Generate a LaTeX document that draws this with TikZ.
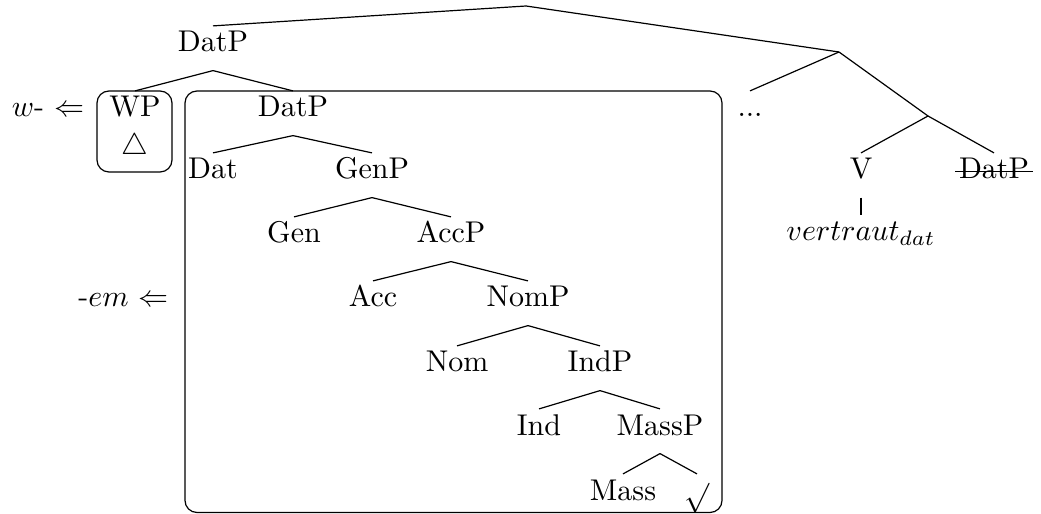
\documentclass[tikz,border=0pt]{standalone}
\usepackage{amssymb,amsmath}
\pgfdeclarelayer{bg}
\pgfsetlayers{bg,main}
\tikzset{
    every node/.style={inner sep=1pt, text height=7.5pt, text depth=5pt, anchor=base}
}
\tikzset{roundbox/.style={rounded corners=4pt}}

\begin{document}
\begin{tikzpicture}
        \useasboundingbox (0cm, 0cm) rectangle (12.195627cm, -6.021664cm);
        % upper part of the tree
        \coordinate (t0) at (6.162248cm, -0.070292cm);
        \coordinate (t1) at (9.829137cm, -0.609196cm);
        \coordinate (t2) at (10.871798cm, -1.358975cm);
        \node (datp) at (2.495359cm, -0.609196cm) {DatP};
        \node (dots) at (8.786475cm, -1.370690cm) {...};
        \node (v) at (10.086873cm, -2.097039cm) {V};
        \node (datpx) at (11.645008cm, -2.097039cm) {DatP};
        \node (verb) at (10.086873cm, -2.823387cm) {$vertraut_{dat}$};
        % specifier and the spine
        \node (wp) at (1.581566cm, -1.370690cm) {WP};
        \node (tri) at (1.581566cm, -1.815872cm) {$\triangle$};
        \node (datpin) at (3.432583cm, -1.370690cm) {DatP};
        \node (dat) at (2.495359cm, -2.097039cm) {Dat};
        \node (genp) at (4.358092cm, -2.097039cm) {GenP};
        \node (gen) at (3.444298cm, -2.846818cm) {Gen};
        \node (accp) at (5.283600cm, -2.846818cm) {AccP};
        \node (acc) at (4.369807cm, -3.596597cm) {Acc};
        \node (nomp) at (6.185678cm, -3.596597cm) {NomP};
        \node (nom) at (5.353892cm, -4.358092cm) {Nom};
        \node (indp) at (7.029180cm, -4.358092cm) {IndP};
        \node (ind) at (6.314547cm, -5.096156cm) {Ind};
        \node (massp) at (7.732098cm, -5.096156cm) {MassP};
        \node (mass) at (7.298632cm, -5.857650cm) {Mass};
        \node (sq) at (8.165564cm, -5.857650cm) {$\sqrt{}$};
        % spell-out labels
        \node (wlab) at (0.562334cm, -1.370690cm) {$w$- $\Leftarrow$};
        \node (emlab) at (1.446840cm, -3.596597cm) {-$em$ $\Leftarrow$};
        % strike through the lower copy
        \draw ([yshift=2.4pt]datpx.base west) -- ([yshift=2.4pt]datpx.base east);
        \begin{pgfonlayer}{bg}
                \draw (t0) edge (datp.north);
                \draw (t0) edge (t1);
                \draw (t1) edge (dots.north);
                \draw (t1) edge (t2);
                \draw (t2) edge (v.north);
                \draw (t2) edge (datpx.north);
                \draw (v.south) edge (verb.north);
                \draw (datp.south) edge (wp.north);
                \draw (datp.south) edge (datpin.north);
                \draw (datpin.south) edge (dat.north);
                \draw (datpin.south) edge (genp.north);
                \draw (genp.south) edge (gen.north);
                \draw (genp.south) edge (accp.north);
                \draw (accp.south) edge (acc.north);
                \draw (accp.south) edge (nomp.north);
                \draw (nomp.south) edge (nom.north);
                \draw (nomp.south) edge (indp.north);
                \draw (indp.south) edge (ind.north);
                \draw (indp.south) edge (massp.north);
                \draw (massp.south) edge (mass.north);
                \draw (massp.south) edge (sq.north);
                % boxes
                \draw [roundbox] (1.136384cm, -1.066092cm) rectangle (2.015032cm, -2.015032cm);
                \draw [roundbox] (2.167331cm, -1.066092cm) rectangle (8.458447cm, -6.004091cm);
        \end{pgfonlayer}
\end{tikzpicture}
\end{document}
